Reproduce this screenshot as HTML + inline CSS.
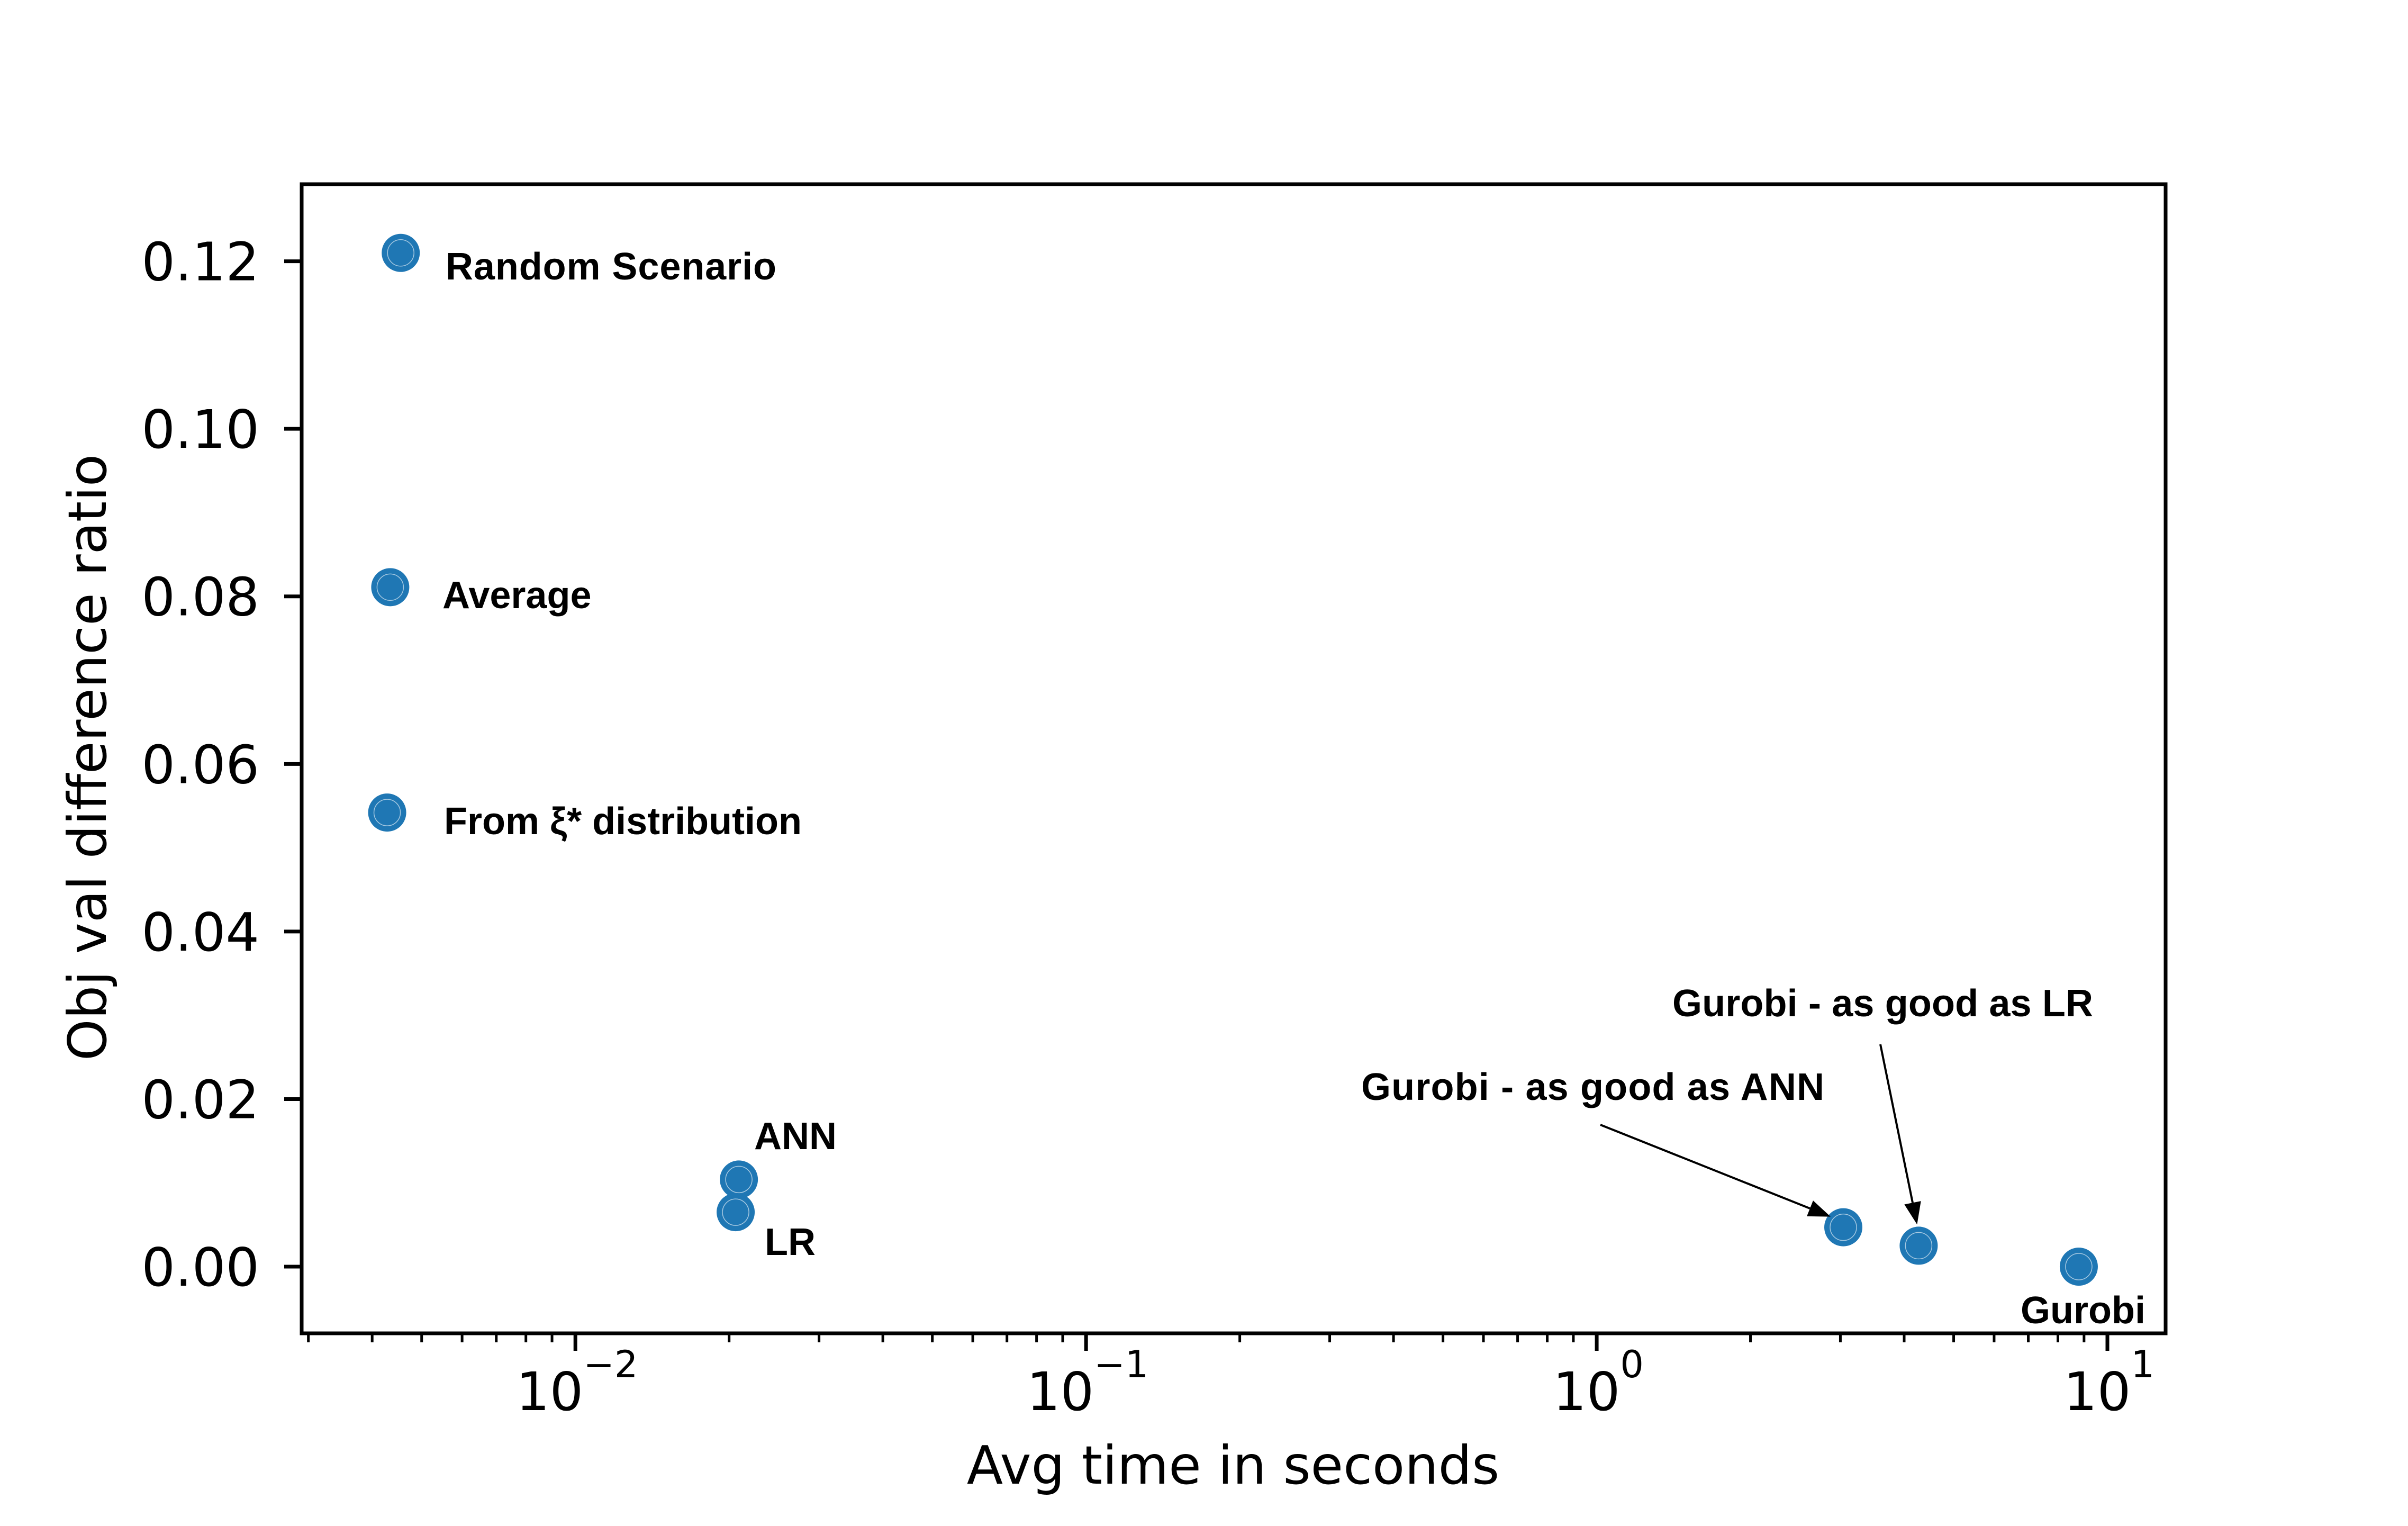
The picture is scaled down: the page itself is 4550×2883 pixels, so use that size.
<!DOCTYPE html>
<html><head><meta charset="utf-8"><style>html,body{margin:0;padding:0;background:#fff}svg{display:block}</style></head>
<body>
<svg id="chart" width="4550" height="2883" viewBox="0 0 4550 2883" xmlns="http://www.w3.org/2000/svg" font-family="'DejaVu Sans', 'Liberation Sans', sans-serif">
<rect width="4550" height="2883" fill="#fff"/>
<g id="ticks"></g>
<g id="points"></g>
<g id="labels" font-family="'Liberation Sans', sans-serif" font-weight="bold" font-size="72"></g>
<rect x="570" y="348" width="3522" height="2171" fill="none" stroke="#000" stroke-width="7"/>
<text x="2330" y="2803" font-size="100" text-anchor="middle">Avg time in seconds</text>
<text transform="translate(200,1431) rotate(-90)" font-size="100" text-anchor="middle">Obj val difference ratio</text>
</svg>
<script>
const names = ["Random Scenario","Average","From ξ* distribution","ANN","LR","Gurobi - as good as ANN","Gurobi - as good as LR","Gurobi"];
const times = [0.00455,0.00434,0.00428,0.0209,0.0206,3.04,4.27,8.79];
const ratios = [0.121,0.0811,0.0542,0.0104,0.0065,0.0047,0.0025,0.0];
const yTickValues = [0,0.02,0.04,0.06,0.08,0.10,0.12];
const yTickLabels = ["0.00","0.02","0.04","0.06","0.08","0.10","0.12"];
const xDecades = [-2,-1,0,1];

const NS="http://www.w3.org/2000/svg";
const L=570,R=4092,T=348,B=2519;
const xmin=-2.536,xmax=1.114,ymin=-0.00796,ymax=0.1292;
function sx(v){return L+(Math.log10(v)-xmin)/(xmax-xmin)*(R-L);}
function sy(v){return B-(v-ymin)/(ymax-ymin)*(B-T);}
function mk(tag,attrs,parent,text){const e=document.createElementNS(NS,tag);for(const k in attrs)e.setAttribute(k,attrs[k]);if(text!==undefined)e.textContent=text;parent.appendChild(e);return e;}

const tg=document.getElementById('ticks');
yTickValues.forEach((v,i)=>{
  const y=sy(v);
  const t=mk('line',{x1:L-33,x2:L,y1:y,y2:y,stroke:'#000','stroke-width':7},tg);
  
  
  const tx=mk('text',{x:L-80,y:y+36,'font-size':100,'text-anchor':'end'},tg,yTickLabels[i]);
  
  
});
for(let d=-3;d<=1;d++){
  for(let m=1;m<=9;m++){
    const v=m*Math.pow(10,d);const lg=Math.log10(v);
    if(lg<xmin||lg>xmax)continue;
    const x=sx(v);const major=(m===1);
    const t=mk('line',{x1:x,x2:x,y1:B,y2:B+(major?33:17),stroke:'#000','stroke-width':major?7:5},tg);
    
    
  }
}
xDecades.forEach(d=>{
  const x=sx(Math.pow(10,d));
  const tx=mk('text',{x:x+3,y:2664,'font-size':100,'text-anchor':'middle'},tg);
  
  
  mk('tspan',{},tx,'10');
  mk('tspan',{dy:-62,'font-size':70},tx,d<0?'\u2212'+(-d):String(d));
});

const pg=document.getElementById('points');
times.forEach((t,i)=>{
  const c=mk('circle',{cx:sx(t),cy:sy(ratios[i]),r:36,fill:'#1f77b4'},pg);
  
  
  mk('circle',{cx:sx(t),cy:sy(ratios[i]),r:25,fill:'none',stroke:'#fff','stroke-width':1.5,'stroke-opacity':0.6},pg);
});

const lg=document.getElementById('labels');
const labelPos=[[842,528,625],[836,1149,0],[839,1576,0],[1425,2171,0],[1445,2371,0],[2572,2078,875],[3160,1920,795],[3818,2500,0]];
names.forEach((n,i)=>{
  const p=labelPos[i];
  const a={x:p[0],y:p[1]};
  if(p[2])a.textLength=p[2];
  const t=mk('text',a,lg,n);
  
  
});
function arrow(x1,y1,x2,y2,name){
  const dx=x2-x1,dy=y2-y1,len=Math.hypot(dx,dy),ux=dx/len,uy=dy/len,hl=42,hw=16;
  const bx=x2-ux*hl,by=y2-uy*hl;
  const g=mk('g',{},lg);
  
  
  mk('line',{x1:x1,y1:y1,x2:bx,y2:by,stroke:'#000','stroke-width':4},g);
  mk('polygon',{points:`${x2},${y2} ${bx-uy*hw},${by+ux*hw} ${bx+uy*hw},${by-ux*hw}`,fill:'#000'},g);
}
arrow(3024,2125,sx(times[5])-24,sy(ratios[5])-20,'arrow-ann');
arrow(3553,1973,sx(times[6])-3,sy(ratios[6])-40,'arrow-lr');
</script>
</body></html>
